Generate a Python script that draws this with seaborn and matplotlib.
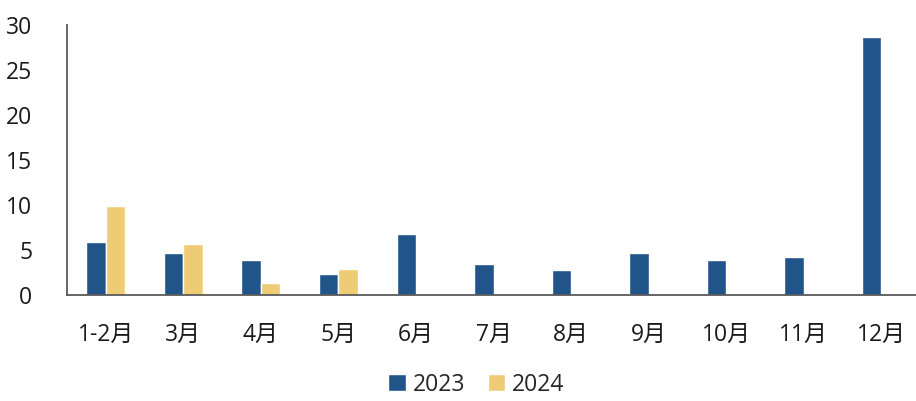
import matplotlib
matplotlib.use("Agg")
import matplotlib.pyplot as plt
import seaborn as sns
import pandas as pd

# data
months = ['1-2月', '3月', '4月', '5月', '6月', '7月', '8月', '9月', '10月', '11月', '12月']
values_2023 = [5.9, 4.6, 3.9, 2.3, 6.7, 3.4, 2.7, 4.6, 3.9, 4.2, 28.6]
values_2024 = [9.9, 5.6, 1.3, 2.9, None, None, None, None, None, None, None]
series = ['2023', '2024']
colors = ['#21558A', '#EECC75']

# long format table for seaborn
df = pd.DataFrame({
    'month': months * 2,
    'value': values_2023 + values_2024,
    'year': [series[0]] * len(months) + [series[1]] * len(months),
})

sns.set_style('white')
plt.rcParams['font.family'] = ['Open Sans', 'Noto Sans CJK SC', 'DejaVu Sans']

fig = plt.figure(figsize=(9.16, 4.01), dpi=100)
ax = fig.add_axes([67 / 916, 106.3 / 401, 853 / 916, 270 / 401])

sns.barplot(data=df, x='month', y='value', hue='year', order=months,
            hue_order=series, palette=colors, width=0.5, saturation=1,
            ax=ax)

ax.set_xlim(-0.5, len(months) - 0.5)
ax.set_ylim(0, 30)
ax.set_yticks([0, 5, 10, 15, 20, 25, 30])
ax.set_xlabel('')
ax.set_ylabel('')

# ticks between categories, labels at the centres
ax.set_xticks([i - 0.5 for i in range(len(months) + 1)])
ax.set_xticklabels([])
ax.set_xticks(range(len(months)), minor=True)
ax.set_xticklabels(months, minor=True)
ax.tick_params(axis='x', which='major', length=7, width=1.3, color='#595959', direction='out')
ax.tick_params(axis='x', which='minor', length=0, pad=20, labelsize=16.5, labelcolor='#1a1a1a')
ax.tick_params(axis='y', length=7, width=1.3, color='#595959', direction='out',
               pad=18, labelsize=16.5, labelcolor='#1a1a1a')

for side in ['top', 'right']:
    ax.spines[side].set_visible(False)
for side in ['left', 'bottom']:
    ax.spines[side].set_color('#595959')
    ax.spines[side].set_linewidth(1.3)

ax.legend(loc='lower center', bbox_to_anchor=(0.52, -0.012), bbox_transform=fig.transFigure,
          ncol=2, frameon=False, fontsize=16.5, handlelength=0.75, handleheight=0.75,
          handletextpad=0.3, columnspacing=1.0, borderaxespad=0)

fig.savefig('out.png', dpi=100)
